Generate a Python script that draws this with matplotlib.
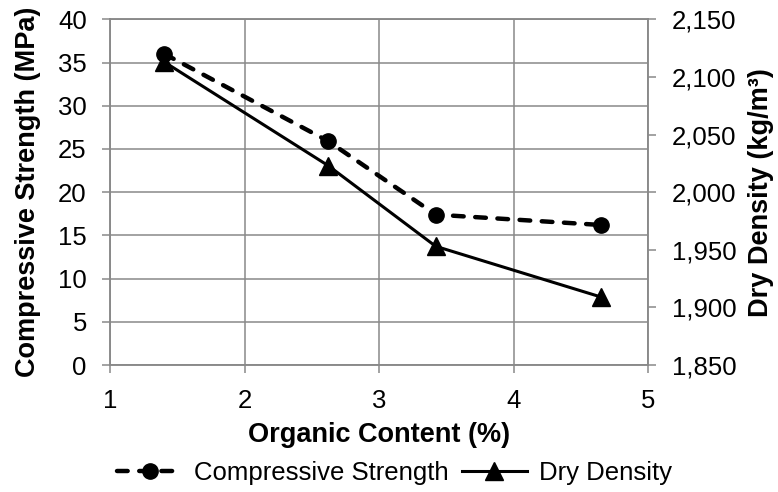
import matplotlib.pyplot as plt
from matplotlib.ticker import FuncFormatter
from matplotlib.lines import Line2D

plt.rcParams['font.family'] = ['Liberation Sans', 'DejaVu Sans']

organic = [1.40, 2.62, 3.42, 4.65]
strength = [36.0, 25.9, 17.4, 16.2]
density = [2113, 2023, 1953, 1909]

grey = '#898989'
dash = (0, (2.4, 2.6))

fig = plt.figure(figsize=(7.78, 4.92), dpi=100)
ax = fig.add_axes([0.142, 0.2581, 0.691, 0.7027])
ax2 = ax.twinx()

ax.plot(organic, strength, color='black', lw=3.2, ls=dash, dash_capstyle='round',
        marker='o', ms=11, zorder=3)
ax2.plot(organic, density, color='black', lw=2.2, ls='-',
         marker='^', ms=12.5, zorder=3)

ax.set_xlim(1, 5)
ax.set_ylim(0, 40)
ax.set_xticks([1, 2, 3, 4, 5])
ax.set_yticks(range(0, 41, 5))
ax2.set_ylim(1850, 2150)
ax2.set_yticks(range(1850, 2151, 50))
ax2.yaxis.set_major_formatter(FuncFormatter(lambda v, p: f'{int(v):,}'))

ax.grid(True, color=grey, lw=1.1)
ax.set_axisbelow(True)

for a in (ax, ax2):
    for s in a.spines.values():
        s.set_color(grey)
        s.set_linewidth(1.1)
    a.tick_params(colors=grey, labelcolor='black', labelsize=18.5, length=6, width=1.1)
ax.tick_params(axis='x', pad=11)
ax.tick_params(axis='y', pad=11)
ax2.tick_params(axis='y', pad=11)

ax.set_xlabel('Organic Content (%)', fontsize=19.5, fontweight='bold')
ax.set_ylabel('Compressive Strength (MPa)', fontsize=19.5, fontweight='bold')
ax2.set_ylabel('Dry Density (kg/m³)', fontsize=19.5, fontweight='bold')
ax.xaxis.set_label_coords(0.5, -0.165)
ax.yaxis.set_label_coords(-0.129, 0.5)
ax2.yaxis.set_label_coords(1.186, 0.5)

handles = [
    Line2D([], [], color='black', lw=3.2, ls=dash, dash_capstyle='round', marker='o', ms=11),
    Line2D([], [], color='black', lw=2.2, marker='^', ms=12.5),
]
fig.legend(handles, ['Compressive Strength', 'Dry Density'], loc='center',
           bbox_to_anchor=(0.507, 0.0386), ncol=2, frameon=False, fontsize=18.5,
           handlelength=2.55, handletextpad=0.45, columnspacing=0.5, borderpad=0)

fig.savefig('out.png', dpi=100)
